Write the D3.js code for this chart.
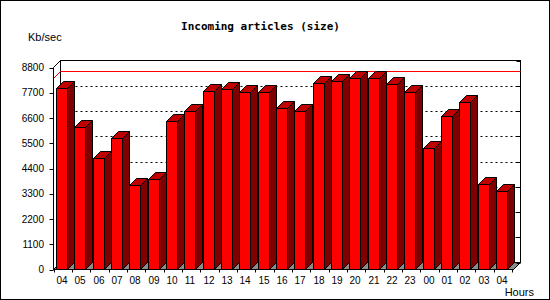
<!DOCTYPE html>
<html>
<head>
<meta charset="utf-8">
<script src="https://cdn.jsdelivr.net/npm/d3@7"></script>
<style>
  body { margin: 0; background: #fff; }
  svg { display: block; }
  text { font-family: "Liberation Sans", Arial, sans-serif; fill: #000; }
</style>
</head>
<body>
<div id="chart"></div>
<script>
var hours = ["04","05","06","07","08","09","10","11","12","13","14","15","16","17","18","19","20","21","22","23","00","01","02","03","04"];
var kbsec = [7900, 6200, 4860, 5720, 3680, 3940, 6460, 6900, 7770, 7860, 7730, 7730, 7030, 6900, 8120, 8200, 8330, 8340, 8070, 7730, 5290, 6680, 7290, 3730, 3420];
var yTicks = [0, 1100, 2200, 3300, 4400, 5500, 6600, 7700, 8800];

var w = 550, h = 300;
var dx = 7, dy = 7; // 3d depth

var svg = d3.select("#chart")
    .append("svg")
    .attr("width", w)
    .attr("height", h);

svg.append("rect")
    .attr("x", 0.5).attr("y", 0.5)
    .attr("width", w - 1).attr("height", h - 1)
    .attr("fill", "#fff")
    .attr("stroke", "#000");

var x = d3.scaleBand()
    .domain(d3.range(hours.length))
    .range([53.5, 512])
    .padding(0);

var y = d3.scaleLinear()
    .domain([0, 8800])
    .range([269.5, 67.5]);

var bw = x.bandwidth();
var plotL = 53.5, plotR = 513.5, plotB = y(0), plotT = y(8800);

// back wall
svg.append("rect")
    .attr("x", plotL + dx).attr("y", plotT - dy)
    .attr("width", plotR - plotL).attr("height", plotB - plotT)
    .attr("fill", "#fff")
    .attr("stroke", "#000");

// dotted grid on back wall
svg.append("g").selectAll("line")
    .data(yTicks.filter(function(d) { return d > 0 && d < 8800; }))
    .join("line")
    .attr("x1", plotL + dx).attr("x2", plotR + dx)
    .attr("y1", function(d) { return Math.round(y(d)) - dy + 0.5; })
    .attr("y2", function(d) { return Math.round(y(d)) - dy + 0.5; })
    .attr("stroke", "#000")
    .attr("stroke-dasharray", "2,3");

// max line
var ymax = Math.round(y(d3.max(kbsec))) + 0.5;
svg.append("path")
    .attr("d", "M" + plotL + "," + ymax + "L" + (plotL + dx) + "," + (ymax - dy) + "H" + (plotR + dx))
    .attr("fill", "none")
    .attr("stroke", "#ff0000");

// floor
svg.append("path")
    .attr("d", "M" + plotL + "," + plotB + "L" + (plotL + dx) + "," + (plotB - dy) +
        "H" + (plotR + dx) + "L" + plotR + "," + plotB + "Z")
    .attr("fill", "#8c8c8c")
    .attr("stroke", "#000");

// bars
var bars = svg.append("g").selectAll("g")
    .data(kbsec)
    .join("g");

function xl(i) { return Math.round(x(i) + 2.5) + 0.5; }
function xr(i) { return xl(i) + 11; }
function yt(d) { return Math.round(y(d)) + 0.5; }

bars.append("path")
    .attr("d", function(d, i) {
        return "M" + xr(i) + "," + yt(d) + "l" + dx + "," + (-dy) +
            "V" + (plotB - dy) + "l" + (-dx) + "," + dy + "Z";
    })
    .attr("fill", "#800000")
    .attr("stroke", "#000");

bars.append("path")
    .attr("d", function(d, i) {
        return "M" + xl(i) + "," + yt(d) + "l" + dx + "," + (-dy) +
            "H" + (xr(i) + dx) + "l" + (-dx) + "," + dy + "Z";
    })
    .attr("fill", "#c00000")
    .attr("stroke", "#000");

bars.append("rect")
    .attr("x", function(d, i) { return xl(i); })
    .attr("y", function(d) { return yt(d); })
    .attr("width", 11)
    .attr("height", function(d) { return plotB - yt(d); })
    .attr("fill", "#ff0000")
    .attr("stroke", "#000");

// left axis
svg.append("path")
    .attr("d", "M" + plotL + "," + plotB + "V" + plotT + "l" + dx + "," + (-dy))
    .attr("fill", "none")
    .attr("stroke", "#000");

var yAxis = svg.append("g");
yAxis.selectAll("line")
    .data(yTicks)
    .join("line")
    .attr("x1", plotL - 4).attr("x2", plotL)
    .attr("y1", function(d) { return Math.round(y(d)) + 0.5; })
    .attr("y2", function(d) { return Math.round(y(d)) + 0.5; })
    .attr("stroke", "#000");
yAxis.selectAll("text")
    .data(yTicks)
    .join("text")
    .attr("x", 44)
    .attr("y", function(d) { return y(d) + 3.6; })
    .attr("text-anchor", "end")
    .style("font-size", "10px")
    .text(function(d) { return d; });

// right ticks on back wall
svg.append("g").selectAll("line")
    .data(yTicks)
    .join("line")
    .attr("x1", plotR + dx - 4).attr("x2", plotR + dx)
    .attr("y1", function(d) { return Math.round(y(d)) - dy + 0.5; })
    .attr("y2", function(d) { return Math.round(y(d)) - dy + 0.5; })
    .attr("stroke", "#000");

// x axis
svg.append("line")
    .attr("x1", plotL).attr("x2", plotR)
    .attr("y1", plotB).attr("y2", plotB)
    .attr("stroke", "#000");

svg.append("g").selectAll("line")
    .data(d3.range(hours.length + 1))
    .join("line")
    .attr("x1", function(i) { return Math.round(plotL + i * bw) + 0.5; })
    .attr("x2", function(i) { return Math.round(plotL + i * bw) + 0.5; })
    .attr("y1", plotB).attr("y2", plotB + 3)
    .attr("stroke", "#000");

svg.append("g").selectAll("text")
    .data(hours)
    .join("text")
    .attr("x", function(d, i) { return xl(i) + 5.5; })
    .attr("y", 283.5)
    .attr("text-anchor", "middle")
    .style("font-size", "10px")
    .text(function(d) { return d; });

// titles
svg.append("text")
    .attr("x", 260.5)
    .attr("y", 30)
    .attr("text-anchor", "middle")
    .style("font-family", "'DejaVu Sans Mono', monospace")
    .style("font-weight", "bold")
    .style("font-size", "11px")
    .text("Incoming articles (size)");

svg.append("text")
    .attr("x", 28)
    .attr("y", 40.5)
    .style("font-size", "11px")
    .text("Kb/sec");

svg.append("text")
    .attr("x", 534)
    .attr("y", 296)
    .attr("text-anchor", "end")
    .style("font-size", "11px")
    .text("Hours");
</script>
</body>
</html>
